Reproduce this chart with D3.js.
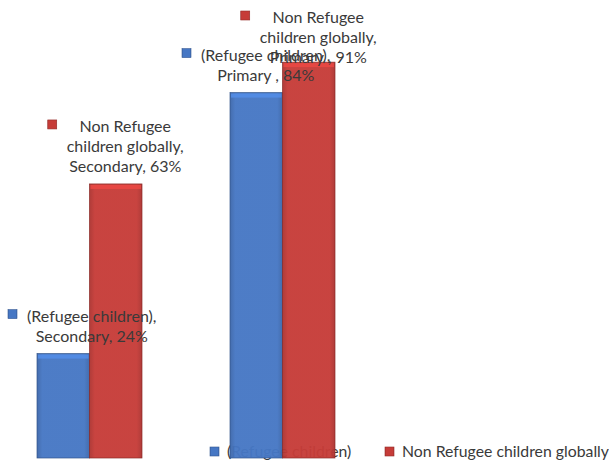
<!DOCTYPE html>
<html>
<head>
<meta charset="utf-8">
<script src="https://cdn.jsdelivr.net/npm/d3@7"></script>
<style>
  body { margin: 0; background: #fff; }
  svg text { font-family: Lato, "Open Sans", sans-serif; fill: #3a3a3a; }
</style>
</head>
<body>
<div id="chart"></div>
<script>
// Data
const categories = ["Secondary", "Primary "];
const seriesNames = ["(Refugee children)", "Non Refugee children globally"];
const seriesLabelLines = [["(Refugee children),"], ["Non Refugee", "children globally,"]];
const refugeeValues = [24, 84];
const nonRefugeeValues = [63, 91];
const seriesColors = ["#4677c4", "#c63c38"];

const width = 609, height = 464;

let svg = d3.select("#chart")
    .append("svg")
    .attr("width", width)
    .attr("height", height);

// gradients for the bevelled look
let defs = svg.append("defs");
seriesColors.forEach(function(c, i) {
    let g = defs.append("linearGradient")
        .attr("id", "grad" + i)
        .attr("x1", "0").attr("x2", "1").attr("y1", "0").attr("y2", "0");
    g.append("stop").attr("offset", "0%").attr("stop-color", d3.color(c).darker(0.4));
    g.append("stop").attr("offset", "10%").attr("stop-color", c);
    g.append("stop").attr("offset", "90%").attr("stop-color", c);
    g.append("stop").attr("offset", "100%").attr("stop-color", d3.color(c).darker(0.4));
});

// scales
let x0 = d3.scaleBand()
    .domain(categories)
    .range([-7, 379])
    .paddingInner(0.456)
    .paddingOuter(0.228);

let x1 = d3.scaleBand()
    .domain([0, 1])
    .range([0, x0.bandwidth()]);

let y = d3.scaleLinear()
    .domain([0, 100])
    .range([458, 23]);

let data = [];
categories.forEach(function(cat, ci) {
    [refugeeValues, nonRefugeeValues].forEach(function(vals, si) {
        data.push({cat: cat, series: si, value: vals[ci]});
    });
});

// legend (drawn under the bars)
let legend = svg.append("g");
let legendX = [210, 385];
seriesNames.forEach(function(name, i) {
    legend.append("rect")
        .attr("x", legendX[i]).attr("y", 447)
        .attr("width", 9).attr("height", 9)
        .attr("fill", "url(#grad" + i + ")")
        .attr("stroke", d3.color(seriesColors[i]).darker(0.8))
        .attr("stroke-width", 0.6);
    legend.append("text")
        .attr("x", legendX[i] + 17).attr("y", 457)
        .style("font-size", "15.8px")
        .text(name);
});

// bars
let bars = svg.append("g");
bars.selectAll("rect.bar")
    .data(data)
    .enter()
    .append("rect")
    .attr("class", "bar")
    .attr("x", function(d) { return x0(d.cat) + x1(d.series); })
    .attr("y", function(d) { return y(d.value); })
    .attr("width", x1.bandwidth())
    .attr("height", function(d) { return y(0) - y(d.value); })
    .attr("fill", function(d) { return "url(#grad" + d.series + ")"; })
    .attr("fill-opacity", 0.96)
    .attr("stroke", function(d) { return d3.color(seriesColors[d.series]).darker(1); })
    .attr("stroke-width", 0.7);

// top bevel highlight
bars.selectAll("rect.bevel")
    .data(data)
    .enter()
    .append("rect")
    .attr("class", "bevel")
    .attr("x", function(d) { return x0(d.cat) + x1(d.series) + 1; })
    .attr("y", function(d) { return y(d.value) + 1; })
    .attr("width", x1.bandwidth() - 2)
    .attr("height", 4)
    .attr("fill", function(d) { return d3.color(seriesColors[d.series]).brighter(0.5); })
    .attr("opacity", 0.8);

// data labels
let lineH = 20;
let labels = svg.append("g");
data.forEach(function(d) {
    let lines = seriesLabelLines[d.series].concat([d.cat + ", " + d.value + "%"]);
    let lastBase = y(d.value) - 12;
    let firstBase = lastBase - (lines.length - 1) * lineH;
    if (firstBase < 23) firstBase = 23;

    let g = labels.append("g");
    let texts = lines.map(function(t, i) {
        return g.append("text")
            .attr("y", firstBase + i * lineH)
            .attr("text-anchor", "middle")
            .style("font-size", "16px")
            .text(t);
    });
    let maxW = d3.max(texts, function(t) { return t.node().getComputedTextLength(); });
    let blockW = 9 + 10 + maxW;
    let cx = x0(d.cat) + x1(d.series) + x1.bandwidth() / 2;
    let left = Math.max(8, cx - blockW / 2);
    texts.forEach(function(t) { t.attr("x", left + 19 + maxW / 2); });
    g.append("rect")
        .attr("x", left).attr("y", firstBase - 12)
        .attr("width", 9).attr("height", 9)
        .attr("fill", "url(#grad" + d.series + ")")
        .attr("stroke", d3.color(seriesColors[d.series]).darker(0.8))
        .attr("stroke-width", 0.6);
});
</script>
</body>
</html>
